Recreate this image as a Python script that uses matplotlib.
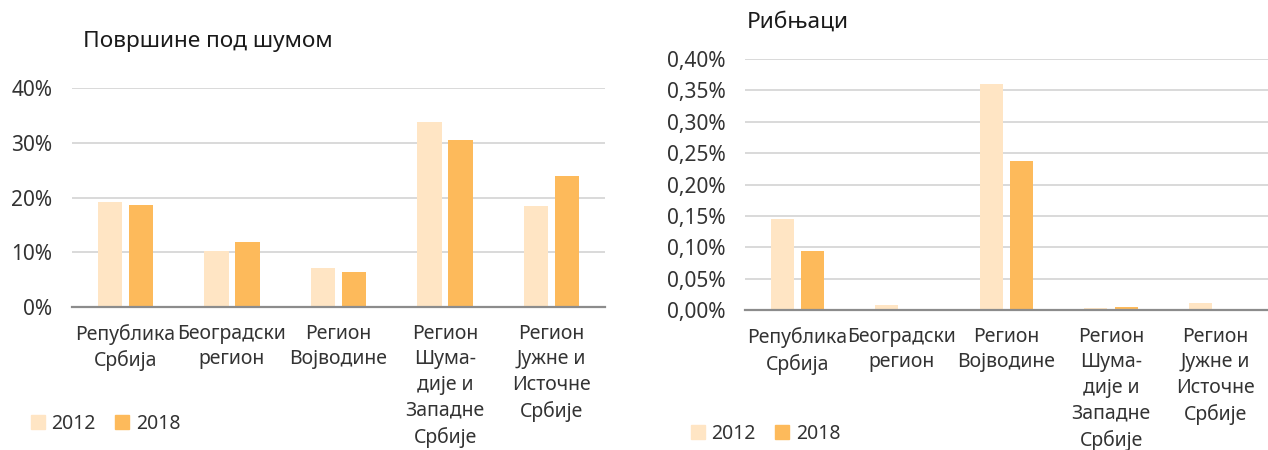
import matplotlib.pyplot as plt
import numpy as np
from matplotlib.patches import Patch
from matplotlib.ticker import FuncFormatter

plt.rcParams['font.family'] = ['Noto Sans', 'DejaVu Sans']

categories = ['Република\nСрбија', 'Београдски\nрегион', 'Регион\nВојводине',
              'Регион\nШума-\nдије и\nЗападне\nСрбије',
              'Регион\nЈужне и\nИсточне\nСрбије']
years = ['2012', '2018']

# shares (fractions)
forest_2012 = [0.192, 0.102, 0.071, 0.338, 0.184]
forest_2018 = [0.186, 0.119, 0.064, 0.305, 0.239]
fish_2012 = [0.00145, 0.00008, 0.00360, 0.00004, 0.00011]
fish_2018 = [0.00094, 0.00001, 0.00237, 0.00005, 0.00001]

c2012 = '#FFE5C4'
c2018 = '#FDBA5B'
text_col = '#333333'

fig = plt.figure(figsize=(12.68, 4.5), dpi=100)


def draw(ax, v1, v2, ymax, step, fmt, title, title_xy, leg_xy, off, w):
    x = np.arange(len(categories))
    ax.bar(x - off, v1, w, color=c2012, zorder=3)
    ax.bar(x + off, v2, w, color=c2018, zorder=3)
    ax.set_xlim(-0.5, len(categories) - 0.5)
    ax.set_ylim(0, ymax)
    ax.set_yticks(np.arange(0, ymax + step / 2, step))
    ax.yaxis.set_major_formatter(FuncFormatter(fmt))
    ax.grid(axis='y', color='#D9D9D9', linewidth=1.4, zorder=0)
    for s in ['top', 'right', 'left']:
        ax.spines[s].set_visible(False)
    ax.spines['bottom'].set_color('#8C8C8C')
    ax.spines['bottom'].set_linewidth(1.6)
    ax.spines['bottom'].set_zorder(4)
    ax.set_xticks(x)
    ax.set_xticklabels(categories, fontsize=14, color=text_col,
                       linespacing=1.38, va='top')
    ax.tick_params(axis='x', length=0, pad=12)
    ax.tick_params(axis='y', length=0, pad=14, labelsize=15,
                   labelcolor=text_col)
    fig.text(title_xy[0], title_xy[1], title, fontsize=16.3, color='#1a1a1a',
             ha='left', va='center')
    handles = [Patch(color=c2012), Patch(color=c2018)]
    fig.legend(handles, years, loc='center left', bbox_to_anchor=leg_xy,
               ncol=2, frameon=False, fontsize=14, handlelength=0.72,
               handleheight=0.72, handletextpad=0.35, columnspacing=1.0,
               labelcolor=text_col)


ax1 = fig.add_axes([0.0568, 0.318, 0.4203, 0.486])
draw(ax1, forest_2012, forest_2018, 0.40, 0.10,
     lambda v, p: f'{v * 100:.0f}%',
     'Површине под шумом', (83 / 1268, 1 - 42 / 450),
     (13 / 1268, 1 - 424 / 450), 0.145, 0.23)

ax2 = fig.add_axes([0.5875, 0.311, 0.4125, 0.558])
draw(ax2, fish_2012, fish_2018, 0.0040, 0.0005,
     lambda v, p: f'{v * 100:.2f}%'.replace('.', ','),
     'Рибњаци', (747 / 1268, 1 - 22 / 450),
     (673 / 1268, 1 - 434 / 450), 0.145, 0.22)

fig.savefig('out.png', dpi=100)
